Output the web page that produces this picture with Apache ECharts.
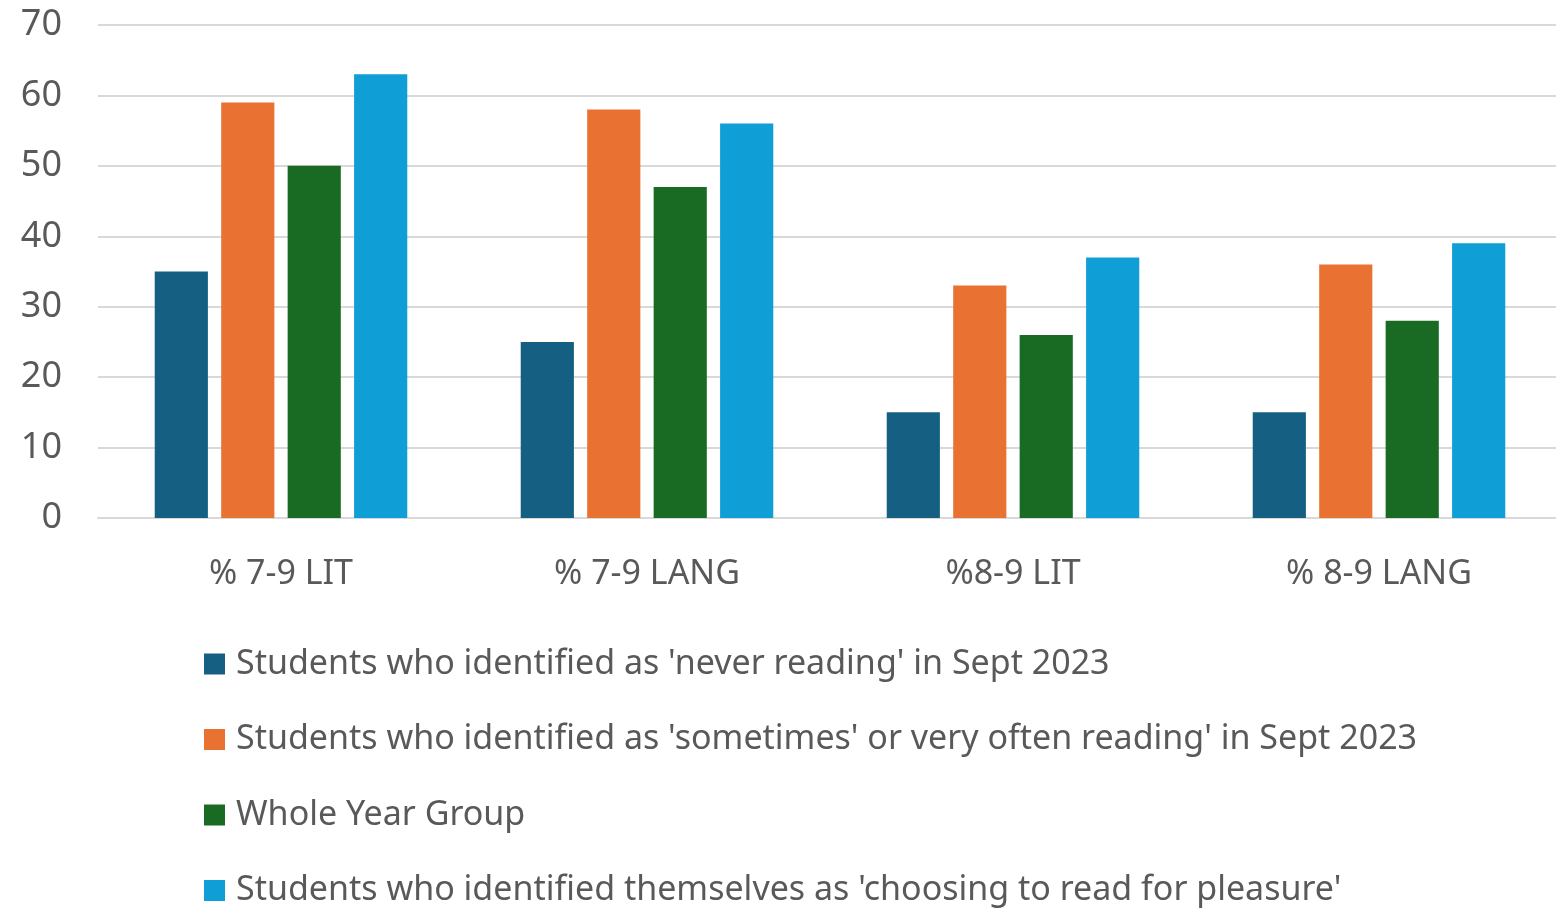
<!DOCTYPE html>
<html>
<head>
<meta charset="utf-8">
<script src="https://cdn.jsdelivr.net/npm/echarts@6/dist/echarts.min.js"></script>
<style>
  html, body { margin: 0; padding: 0; background: #fff; overflow: hidden; }
  /* plot area in the original runs a few px past the right edge */
  #chart { width: 1562px; height: 908px; }
</style>
</head>
<body>
<div id="chart"></div>
<script>
const categories = ['% 7-9 LIT', '% 7-9 LANG', '%8-9 LIT', '% 8-9 LANG']
const seriesNames = [
  "Students who identified as 'never reading' in Sept 2023",
  "Students who identified as 'sometimes' or very often reading' in Sept 2023",
  'Whole Year Group',
  "Students who identified themselves as 'choosing to read for pleasure'"
]
const neverReading = [35, 25, 15, 15]
const sometimesReading = [59, 58, 33, 36]
const wholeYear = [50, 47, 26, 28]
const readForPleasure = [63, 56, 37, 39]
const colors = ['#156082', '#E97132', '#196B24', '#0F9ED5']

const chart = echarts.init(document.getElementById('chart'), null, { renderer: 'canvas' })
const font = "'Noto Sans', sans-serif"

const allData = [neverReading, sometimesReading, wholeYear, readForPleasure]

chart.setOption({
  animation: false,
  color: colors,
  grid: {
    left: 98,
    top: 25,
    right: 0,
    bottom: 390,
    containLabel: false
  },
  legend: {
    orient: 'vertical',
    left: 204,
    top: 647,
    height: 262,
    padding: 0,
    itemWidth: 21,
    itemHeight: 21,
    itemGap: 41.5,
    icon: 'rect',
    textStyle: {
      fontFamily: font,
      fontSize: 34,
      lineHeight: 34,
      color: '#595959',
      padding: [0, 0, 0, 6]
    },
    data: seriesNames
  },
  xAxis: {
    type: 'category',
    data: categories,
    axisTick: { show: false },
    axisLine: { lineStyle: { color: '#d9d9d9', width: 2 } },
    axisLabel: {
      margin: 39,
      fontFamily: font,
      fontSize: 34,
      color: '#595959'
    }
  },
  yAxis: {
    type: 'value',
    min: 0,
    max: 70,
    interval: 10,
    axisLine: { show: false },
    axisTick: { show: false },
    axisLabel: {
      margin: 36,
      fontFamily: font,
      fontSize: 36,
      color: '#595959'
    },
    splitLine: { lineStyle: { color: '#d9d9d9', width: 2 } }
  },
  series: seriesNames.map((name, i) => ({
    name: name,
    type: 'bar',
    data: allData[i],
    barGap: '25%',
    barCategoryGap: '31%',
    itemStyle: { color: colors[i] }
  }))
})
</script>
</body>
</html>
